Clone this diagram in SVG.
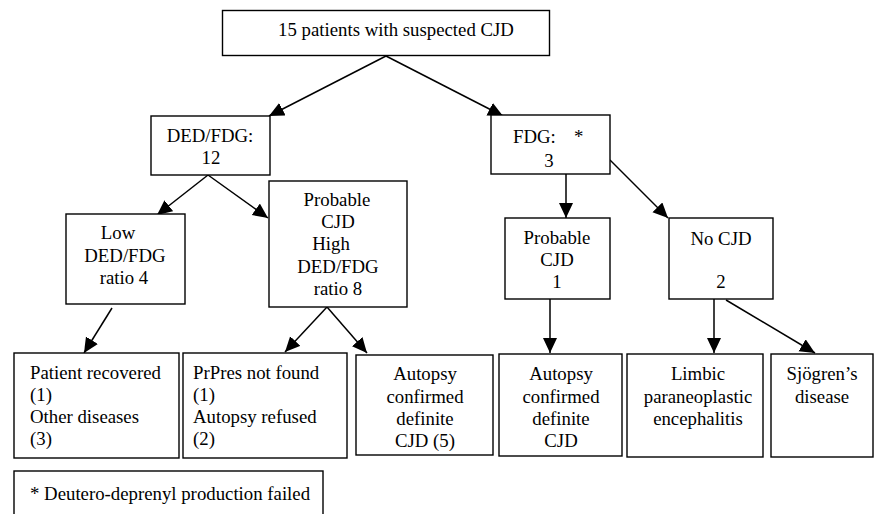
<svg xmlns="http://www.w3.org/2000/svg" width="874" height="514" viewBox="0 0 874 514">
<defs>
<style>
.box{fill:#fff;stroke:#000;stroke-width:1.4}
text{font-family:"Liberation Serif","Times New Roman",serif;font-size:18.8px;fill:#000}
.c{text-anchor:middle}
.ln{stroke:#000;stroke-width:1.5;fill:none;marker-end:url(#ah)}
</style>
<marker id="ah" markerUnits="userSpaceOnUse" markerWidth="16" markerHeight="15" refX="15" refY="7" orient="auto">
<path d="M0,0 L15,7 L0,14 z" fill="#000"/>
</marker>
</defs>
<rect width="874" height="514" fill="#fff"/>
<g id="connectors">
<line class="ln" x1="386" y1="56" x2="269" y2="116"/>
<line class="ln" x1="386" y1="56" x2="503" y2="116"/>
<line class="ln" x1="208" y1="175" x2="157" y2="215"/>
<line class="ln" x1="208" y1="175" x2="268" y2="218"/>
<line class="ln" x1="566" y1="174" x2="566" y2="218"/>
<line class="ln" x1="610" y1="160" x2="668" y2="218"/>
<line class="ln" x1="112" y1="308" x2="84" y2="353"/>
<line class="ln" x1="327" y1="307" x2="285" y2="352"/>
<line class="ln" x1="327" y1="307" x2="367" y2="353"/>
<line class="ln" x1="550" y1="299" x2="550" y2="353"/>
<line class="ln" x1="714" y1="299" x2="714" y2="353"/>
<line class="ln" x1="726" y1="300" x2="815" y2="353"/>
</g>
<g id="n-top">
<rect class="box" x="222.5" y="10.5" width="327" height="45"/>
<text class="c" x="396" y="36">15 patients with suspected CJD</text>
</g>
<g id="n-dedfdg">
<rect class="box" x="151" y="116" width="119" height="59"/>
<text class="c" x="210" y="142">DED/FDG:</text>
<text class="c" x="211" y="164">12</text>
</g>
<g id="n-fdg">
<rect class="box" x="491" y="115" width="119" height="59"/>
<text x="513" y="143">FDG:</text>
<text x="574" y="143">*</text>
<text class="c" x="549" y="167">3</text>
</g>
<g id="n-low">
<rect class="box" x="66" y="214" width="119" height="90"/>
<text class="c" x="118" y="239">Low</text>
<text class="c" x="125" y="262">DED/FDG</text>
<text class="c" x="124" y="284">ratio 4</text>
</g>
<g id="n-high">
<rect class="box" x="269" y="181" width="138" height="126"/>
<text class="c" x="337" y="206">Probable</text>
<text class="c" x="338" y="228">CJD</text>
<text class="c" x="331" y="250">High</text>
<text class="c" x="338" y="273">DED/FDG</text>
<text class="c" x="338" y="295">ratio 8</text>
</g>
<g id="n-prob1">
<rect class="box" x="505" y="218" width="105" height="81"/>
<text class="c" x="557" y="244">Probable</text>
<text class="c" x="557" y="266">CJD</text>
<text class="c" x="557" y="288">1</text>
</g>
<g id="n-nocjd">
<rect class="box" x="669" y="218" width="104" height="81"/>
<text class="c" x="721" y="245">No CJD</text>
<text class="c" x="721" y="288">2</text>
</g>
<g id="n-recovered">
<rect class="box" x="14" y="353" width="165" height="105"/>
<text x="30" y="379">Patient recovered</text>
<text x="30" y="401">(1)</text>
<text x="30" y="423">Other diseases</text>
<text x="30" y="445">(3)</text>
</g>
<g id="n-prpres">
<rect class="box" x="183" y="353" width="164" height="105"/>
<text x="193" y="379">PrPres not found</text>
<text x="193" y="401">(1)</text>
<text x="193" y="423">Autopsy refused</text>
<text x="193" y="445">(2)</text>
</g>
<g id="n-autopsy5">
<rect class="box" x="356" y="355" width="137" height="100"/>
<text class="c" x="425" y="380">Autopsy</text>
<text class="c" x="425" y="403">confirmed</text>
<text class="c" x="425" y="425">definite</text>
<text class="c" x="425" y="447">CJD (5)</text>
</g>
<g id="n-autopsy1">
<rect class="box" x="499" y="354" width="123" height="102"/>
<text class="c" x="561" y="380">Autopsy</text>
<text class="c" x="561" y="403">confirmed</text>
<text class="c" x="561" y="425">definite</text>
<text class="c" x="561" y="447">CJD</text>
</g>
<g id="n-limbic">
<rect class="box" x="627" y="354" width="136" height="103"/>
<text class="c" x="698" y="380">Limbic</text>
<text class="c" x="698" y="403">paraneoplastic</text>
<text class="c" x="698" y="425">encephalitis</text>
</g>
<g id="n-sjogren">
<rect class="box" x="771" y="354" width="102" height="103"/>
<text class="c" x="822" y="380">Sjögren’s</text>
<text class="c" x="822" y="403">disease</text>
</g>
<g id="n-footnote">
<rect class="box" x="14" y="471" width="309" height="60"/>
<text x="30" y="500">* Deutero-deprenyl production failed</text>
</g>
</svg>
